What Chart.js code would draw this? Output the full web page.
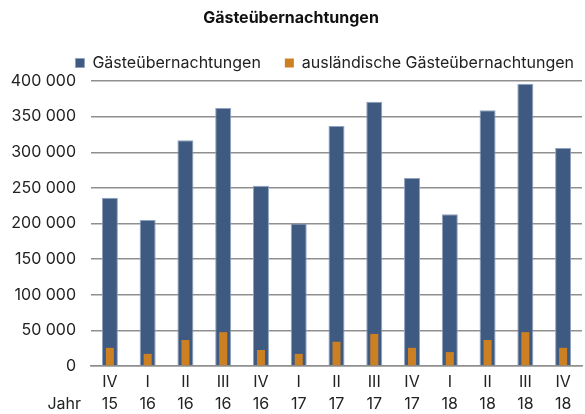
<!DOCTYPE html>
<html>
<head>
<meta charset="utf-8">
<script src="https://cdn.jsdelivr.net/npm/chart.js@4.4.1/dist/chart.umd.min.js"></script>
<style>
  html, body { margin: 0; padding: 0; background: #ffffff; }
  #wrap { width: 585px; height: 414px; }
</style>
</head>
<body>
<div id="wrap"><canvas id="c" width="585" height="414"></canvas></div>
<script>
const quarters = ['IV', 'I', 'II', 'III', 'IV', 'I', 'II', 'III', 'IV', 'I', 'II', 'III', 'IV'];
const years = ['15', '16', '16', '16', '16', '17', '17', '17', '17', '18', '18', '18', '18'];
const gaesteuebernachtungen = [236000, 205000, 317000, 362000, 253000, 200000, 337000, 371000, 264000, 213000, 359000, 396000, 306000];
const auslaendische = [25500, 17000, 36500, 47500, 22500, 17000, 34000, 45000, 25500, 19500, 36500, 47500, 25500];
const yTicks = [0, 50000, 100000, 150000, 200000, 250000, 300000, 350000, 400000];

const FONT = 'Inter, "Liberation Sans", Arial, sans-serif';
const labels = quarters.map((q, i) => [q, years[i]]);

const jahrPlugin = {
  id: 'jahr',
  afterLayout(chart) {
    if (chart.legend) {
      chart.legend.left += 16;
      chart.legend.right += 16;
    }
  },
  afterDraw(chart) {
    const xs = chart.scales.x;
    const ctx = chart.ctx;
    ctx.save();
    ctx.font = '16px ' + FONT;
    ctx.fillStyle = '#222';
    ctx.textAlign = 'right';
    ctx.textBaseline = 'middle';
    ctx.fillText('Jahr', xs.left - 10, xs.top + 5 + 22.4 * 1.5);
    ctx.restore();
  }
};

new Chart(document.getElementById('c'), {
  type: 'bar',
  data: {
    labels: labels,
    datasets: [
      {
        label: 'Gästeübernachtungen',
        data: gaesteuebernachtungen,
        backgroundColor: '#3f5a80',
        borderColor: '#8fa2bf',
        borderWidth: 1,
        grouped: false,
        barPercentage: 0.424,
        categoryPercentage: 1,
        order: 2
      },
      {
        label: 'ausländische Gästeübernachtungen',
        data: auslaendische,
        backgroundColor: '#cd8021',
        borderWidth: 0,
        grouped: false,
        barPercentage: 0.212,
        categoryPercentage: 1,
        order: 1
      }
    ]
  },
  options: {
    responsive: false,
    animation: false,
    devicePixelRatio: 1,
    layout: { padding: { left: 0, right: 3, top: 0, bottom: 0 } },
    plugins: {
      title: {
        display: true,
        text: 'Gästeübernachtungen',
        color: '#111',
        font: { family: FONT, size: 16, weight: 'bold', lineHeight: 1.2 },
        padding: { top: 8.4, bottom: 3.4 }
      },
      legend: {
        display: true,
        align: 'end',
        labels: {
          boxWidth: 9,
          boxHeight: 9,
          padding: 24,
          color: '#222',
          font: { family: FONT, size: 16 },
          sort: (a, b) => a.datasetIndex - b.datasetIndex
        }
      },
      tooltip: { enabled: false }
    },
    scales: {
      x: {
        grid: { display: false, drawTicks: false },
        border: { display: true, color: '#8f8f8f', width: 1.5 },
        ticks: {
          color: '#222',
          font: { family: FONT, size: 16, lineHeight: 1.4 },
          padding: 5,
          maxRotation: 0,
          autoSkip: false
        },
        afterFit(scale) { scale.height = 48; }
      },
      y: {
        min: 0,
        max: 400000,
        afterBuildTicks(scale) { scale.ticks = yTicks.map(v => ({ value: v })); },
        grid: { color: '#8f8f8f', lineWidth: 1.5, drawTicks: false },
        border: { display: false },
        ticks: {
          color: '#222',
          font: { family: FONT, size: 16 },
          padding: 15,
          callback: (v) => String(v).replace(/\B(?=(\d{3})+(?!\d))/g, ' ')
        },
        afterFit(scale) { scale.width = 91; }
      }
    }
  },
  plugins: [jahrPlugin]
});
</script>
</body>
</html>
